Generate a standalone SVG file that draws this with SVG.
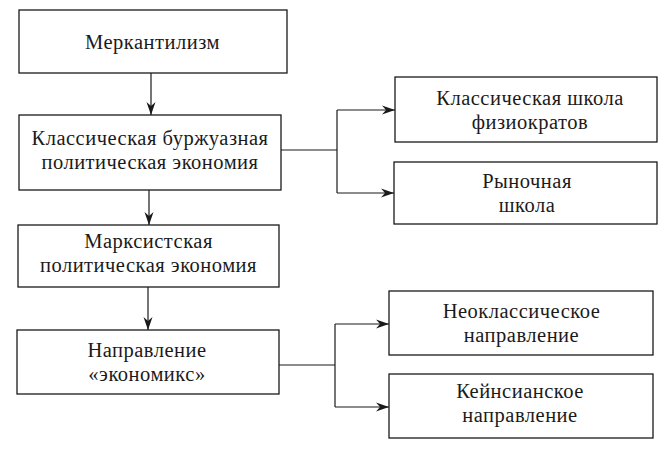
<svg xmlns="http://www.w3.org/2000/svg" width="670" height="451" viewBox="0 0 670 451">
<style>
.box{fill:#fff;stroke:#1a1a1a;stroke-width:1.3}
.t{font-family:"Liberation Serif","Times New Roman",serif;font-size:20.5px;letter-spacing:0.5px;fill:#1a1a1a;text-anchor:middle}
.c{fill:none;stroke:#1a1a1a;stroke-width:1.2}
</style>
<defs>
<marker id="ah" markerWidth="14" markerHeight="10" refX="13" refY="5" orient="auto" markerUnits="userSpaceOnUse">
<path d="M0,0.5 L13,5 L0,9.5 L4,5 Z" fill="#1a1a1a"/>
</marker>
</defs>
<rect width="670" height="451" fill="#fff"/>
<g id="connectors">
<line class="c" x1="151" y1="73" x2="151" y2="115" marker-end="url(#ah)"/>
<line class="c" x1="149" y1="190" x2="149" y2="225" marker-end="url(#ah)"/>
<line class="c" x1="148" y1="287" x2="148" y2="330" marker-end="url(#ah)"/>
<polyline class="c" points="281,150 337,150"/>
<polyline class="c" points="337,110 337,193"/>
<line class="c" x1="337" y1="110" x2="395" y2="110" marker-end="url(#ah)"/>
<line class="c" x1="337" y1="193" x2="394" y2="193" marker-end="url(#ah)"/>
<polyline class="c" points="279,365 335,365"/>
<polyline class="c" points="335,324 335,407"/>
<line class="c" x1="335" y1="324" x2="389" y2="324" marker-end="url(#ah)"/>
<line class="c" x1="335" y1="407" x2="389" y2="407" marker-end="url(#ah)"/>
</g>
<g id="merkantilizm">
<rect class="box" x="19" y="10" width="268" height="63"/>
<text class="t" x="152.5" y="49">Меркантилизм</text>
</g>
<g id="klassicheskaya">
<rect class="box" x="19" y="115" width="262" height="75"/>
<text class="t" x="150" y="145">Классическая буржуазная</text>
<text class="t" x="150" y="169">политическая экономия</text>
</g>
<g id="fiziokraty">
<rect class="box" x="395" y="77" width="262" height="65"/>
<text class="t" x="530" y="105">Классическая школа</text>
<text class="t" x="530" y="129">физиократов</text>
</g>
<g id="rynochnaya">
<rect class="box" x="394" y="162" width="263" height="62"/>
<text class="t" x="527" y="188">Рыночная</text>
<text class="t" x="527" y="212">школа</text>
</g>
<g id="marksistskaya">
<rect class="box" x="18" y="225" width="261" height="62"/>
<text class="t" x="148.5" y="248">Марксистская</text>
<text class="t" x="148.5" y="272">политическая экономия</text>
</g>
<g id="ekonomiks">
<rect class="box" x="17" y="330" width="262" height="64"/>
<text class="t" x="147" y="357">Направление</text>
<text class="t" x="147" y="381">«экономикс»</text>
</g>
<g id="neoklassicheskoe">
<rect class="box" x="389" y="291" width="264" height="64"/>
<text class="t" x="521.5" y="318">Неоклассическое</text>
<text class="t" x="521.5" y="342">направление</text>
</g>
<g id="keynsianskoe">
<rect class="box" x="389" y="374" width="264" height="64"/>
<text class="t" x="520" y="398">Кейнсианское</text>
<text class="t" x="520" y="422">направление</text>
</g>
</svg>
